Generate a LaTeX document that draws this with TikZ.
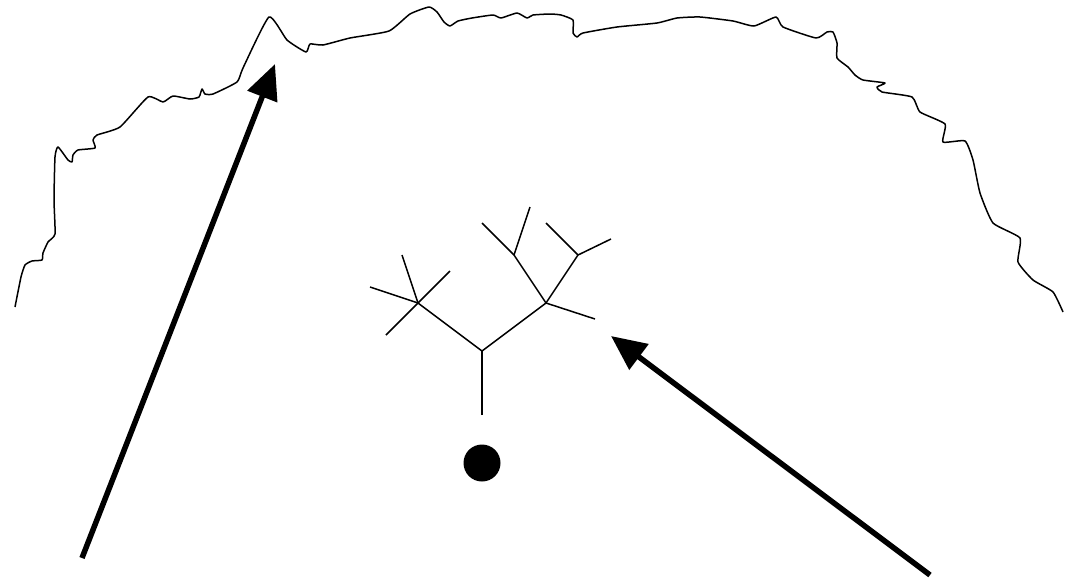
\documentclass[tikz,border=0pt]{standalone}
\usetikzlibrary{arrows.meta}
\begin{document}
\begin{tikzpicture}[x=1pt,y=-1pt,
  twig/.style={line width=1.5pt,line cap=butt},
  ridge/.style={line width=1.5pt,line join=round},
  pointer/.style={line width=5.5pt,-{Triangle[length=35pt,width=31pt]}},
  blob/.style={circle,fill=black,minimum size=37pt,inner sep=0pt}]
\useasboundingbox (0,0) rectangle (1066,579);
% wavy outline
\draw[ridge] plot[smooth,tension=0.3] coordinates {
 (15,307) (21,277) (25,265) (32,261) (42,260) (43,253) (48,242) (55,234)
 (54,200) (55,157) (58,147) (68,160) (72,162) (73,155) (78,150) (95,148)
 (93,140) (97,135) (120,127) (148,97) (163,102) (173,96) (190,99) (199,97)
 (202,89) (205,94) (213,94) (237,82) (243,68) (269,17) (287,40) (306,52)
 (310,44) (323,45) (350,38) (389,31) (410,14) (429,7) (437,12) (444,22)
 (450,26) (458,21) (472,18) (493,15) (501,18) (517,13) (527,18) (533,15)
 (550,14) (561,15) (573,20) (573,33) (577,37) (583,33) (617,27) (657,23)
 (677,18) (700,17) (733,21) (754,26) (776,17) (783,27) (816,38) (827,32)
 (833,32) (837,43) (837,58) (848,67) (855,75) (863,80) (885,83) (877,87)
 (882,92) (912,97) (920,112) (945,124) (943,142) (965,141) (973,160)
 (980,193) (993,223) (1020,238) (1018,262) (1033,280) (1053,292) (1063,312)};
% tree
\coordinate (root) at (482,415);
\coordinate (fork) at (482,351);
\coordinate (L) at (418,303);
\coordinate (R) at (546,303);
\coordinate (Ra) at (514,255);
\coordinate (Rb) at (578,255);
\coordinate (l1) at (370,287);
\coordinate (l2) at (402,255);
\coordinate (l3) at (450,271);
\coordinate (l4) at (386,335);
\coordinate (r1) at (595,319);
\coordinate (a1) at (482,223);
\coordinate (a2) at (530,207);
\coordinate (b1) at (546,223);
\coordinate (b2) at (611,239);
\draw[twig] (root) -- (fork);
\draw[twig] (fork) -- (L);
\draw[twig] (fork) -- (R);
\draw[twig] (L) -- (l1);
\draw[twig] (L) -- (l2);
\draw[twig] (L) -- (l3);
\draw[twig] (L) -- (l4);
\draw[twig] (R) -- (r1);
\draw[twig] (R) -- (Ra);
\draw[twig] (R) -- (Rb);
\draw[twig] (Ra) -- (a1);
\draw[twig] (Ra) -- (a2);
\draw[twig] (Rb) -- (b1);
\draw[twig] (Rb) -- (b2);
\node[blob] (dot) at (482,463) {};
% arrows
\coordinate (p1tail) at (82,558);
\coordinate (p1tip) at (275,64);
\coordinate (p2tail) at (930,575);
\coordinate (p2tip) at (611,336);
\draw[pointer] (p1tail) -- (p1tip);
\draw[pointer] (p2tail) -- (p2tip);
\end{tikzpicture}
\end{document}
